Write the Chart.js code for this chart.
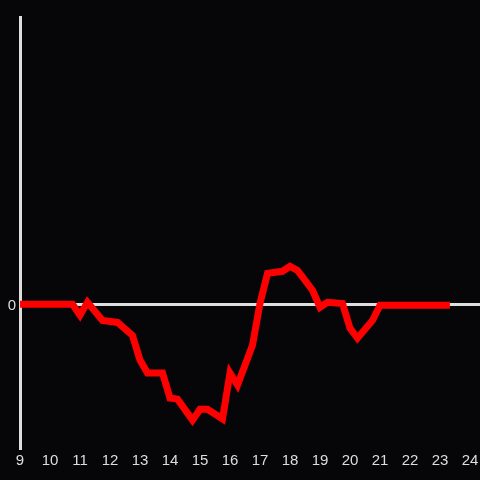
<!DOCTYPE html>
<html>
<head>
<meta charset="utf-8">
<script src="https://cdn.jsdelivr.net/npm/chart.js@4.4.1/dist/chart.umd.min.js"></script>
<style>
    html, body { margin: 0; padding: 0; background: #060608; }
    #wrap { width: 480px; height: 480px; }
</style>
</head>
<body>
<div id="wrap"><canvas id="chart"></canvas></div>
<script>
// hour of day and value
const hours = [9, 10.75, 11, 11.25, 11.75, 12.25, 12.75, 13, 13.25, 13.75, 14, 14.25, 14.75, 15, 15.25, 15.75,
    16, 16.25, 16.75, 17, 17.25, 17.75, 18, 18.25, 18.75, 19, 19.25, 19.75, 20, 20.25, 20.75, 21, 23.33];
const values = [0, 0, -3.8, 0.7, -5.6, -6.3, -10.8, -19.4, -23.9, -23.9, -32.6, -33, -40.3, -36.5, -36.5, -39.9,
    -23.9, -28.1, -14.2, 0.3, 10.8, 11.5, 13.2, 11.8, 4.9, -1, 0.7, 0.3, -8.3, -11.8, -5.6, -0.3, -0.3];
const xTicks = [9, 10, 11, 12, 13, 14, 15, 16, 17, 18, 19, 20, 21, 22, 23, 24];
const yTicks = [0];

const axisColor = '#dedede';

const ctx = document.getElementById('chart').getContext('2d');
new Chart(ctx, {
    type: 'line',
    data: {
        datasets: [{
            data: hours.map((h, i) => ({ x: h, y: values[i] })),
            borderColor: '#ff0000',
            borderWidth: 7,
            pointRadius: 0,
            tension: 0,
            fill: false
        }]
    },
    options: {
        responsive: true,
        maintainAspectRatio: false,
        animation: false,
        layout: { padding: { top: 17, right: 0, bottom: 0, left: 0 } },
        plugins: {
            legend: { display: false },
            tooltip: { enabled: false }
        },
        scales: {
            x: {
                type: 'linear',
                min: 9,
                max: 24.333,
                afterBuildTicks: s => { s.ticks = xTicks.map(v => ({ value: v })); },
                afterFit: s => {
                    s.height = 32;
                    s.paddingLeft = 0;
                    s.paddingRight = 0;
                },
                grid: { display: false, drawTicks: false },
                border: { display: false },
                ticks: {
                    color: axisColor,
                    padding: 4,
                    maxRotation: 0,
                    autoSkip: false,
                    font: { family: 'Liberation Sans, Arial, sans-serif', size: 15 }
                }
            },
            y: {
                min: -50,
                max: 100,
                afterBuildTicks: s => { s.ticks = yTicks.map(v => ({ value: v })); },
                afterFit: s => { s.width = 20; },
                grid: { color: axisColor, lineWidth: 3, drawTicks: false },
                border: { display: true, color: axisColor, width: 3 },
                ticks: {
                    color: axisColor,
                    padding: 4,
                    labelOffset: 2,
                    font: { family: 'Liberation Sans, Arial, sans-serif', size: 15 }
                }
            }
        }
    }
});
</script>
</body>
</html>
